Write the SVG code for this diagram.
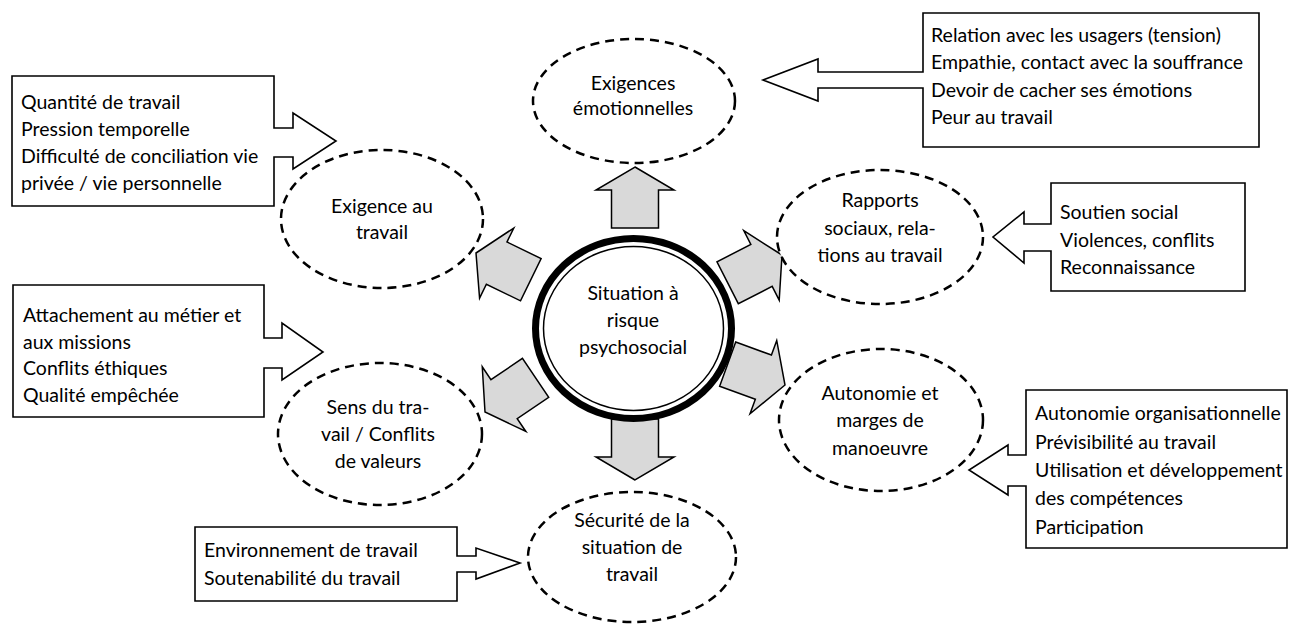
<svg xmlns="http://www.w3.org/2000/svg" width="1291" height="626" viewBox="0 0 1291 626">
<style>
text{font-family:Lato,"Liberation Sans",sans-serif;font-size:19.5px;fill:#000}
.c{text-anchor:middle}
.dash{fill:#fff;stroke:#000;stroke-width:2.5;stroke-dasharray:9 6}
.box{fill:#fff;stroke:#000;stroke-width:1.6;stroke-linejoin:miter}
.ga{fill:#d9d9d9;stroke:#000;stroke-width:1.5;stroke-linejoin:miter}
</style>
<defs>
<polygon id="blk" points="0,0 39,23 23.5,23 23.5,61 -23.5,61 -23.5,23 -39,23"/>
</defs>
<rect width="1291" height="626" fill="#fff"/>

<g id="connectors">
<use href="#blk" class="ga" transform="translate(635,167)"/>
<use href="#blk" class="ga" transform="translate(635,480) rotate(180)"/>
<use href="#blk" class="ga" transform="translate(476,253) rotate(-64)"/>
<use href="#blk" class="ga" transform="translate(782,255) rotate(63)"/>
<use href="#blk" class="ga" transform="translate(785,385) rotate(110)"/>
<use href="#blk" class="ga" transform="translate(485,412) rotate(-124)"/>
</g>

<g id="center">
<ellipse cx="633.5" cy="328.5" rx="98" ry="90" fill="#fff" stroke="#000" stroke-width="7"/>
<ellipse cx="633.5" cy="328.5" rx="90" ry="82" fill="none" stroke="#000" stroke-width="1.5"/>
<text class="c" x="633" y="300">Situation à</text>
<text class="c" x="633" y="327">risque</text>
<text class="c" x="633" y="354">psychosocial</text>
</g>

<g id="n-emo">
<ellipse class="dash" cx="634" cy="101" rx="101" ry="62"/>
<text class="c" x="633" y="90">Exigences</text>
<text class="c" x="633" y="115">émotionnelles</text>
</g>
<g id="n-exi">
<ellipse class="dash" cx="382" cy="219" rx="101" ry="69"/>
<text class="c" x="382" y="213">Exigence au</text>
<text class="c" x="382" y="239">travail</text>
</g>
<g id="n-rap">
<ellipse class="dash" cx="880" cy="237" rx="103" ry="67"/>
<text class="c" x="880" y="207">Rapports</text>
<text class="c" x="880" y="235">sociaux, rela-</text>
<text class="c" x="880" y="262">tions au travail</text>
</g>
<g id="n-sens">
<ellipse class="dash" cx="380" cy="434" rx="102" ry="71"/>
<text class="c" x="378" y="414">Sens du tra-</text>
<text class="c" x="378" y="441">vail / Conflits</text>
<text class="c" x="378" y="468">de valeurs</text>
</g>
<g id="n-auto">
<ellipse class="dash" cx="881" cy="420" rx="102" ry="71"/>
<text class="c" x="880" y="400">Autonomie et</text>
<text class="c" x="880" y="427">marges de</text>
<text class="c" x="880" y="455">manoeuvre</text>
</g>
<g id="n-secu">
<ellipse class="dash" cx="632" cy="557" rx="104" ry="65"/>
<text class="c" x="632" y="527">Sécurité de la</text>
<text class="c" x="632" y="554">situation de</text>
<text class="c" x="632" y="581">travail</text>
</g>

<g id="b-exi">
<polygon class="box" points="12,76 274,76 274,128 293,128 293,113 336,141 293,169 293,157 274,157 274,206 12,206"/>
<text x="21" y="109">Quantité de travail</text>
<text x="21" y="136">Pression temporelle</text>
<text x="21" y="163">Difficulté de conciliation vie</text>
<text x="21" y="190">privée / vie personnelle</text>
</g>
<g id="b-emo">
<polygon class="box" points="923,13 1259,13 1259,147 923,147 923,88 818,88 818,101 763,80 818,59 818,72 923,72"/>
<text x="931" y="42">Relation avec les usagers (tension)</text>
<text x="931" y="69">Empathie, contact avec la souffrance</text>
<text x="931" y="97">Devoir de cacher ses émotions</text>
<text x="931" y="124">Peur au travail</text>
</g>
<g id="b-rap">
<polygon class="box" points="1051,183 1245,183 1245,291 1051,291 1051,251 1024,251 1024,263 993,237 1024,212 1024,224 1051,224"/>
<text x="1060" y="219">Soutien social</text>
<text x="1060" y="247">Violences, conflits</text>
<text x="1060" y="274">Reconnaissance</text>
</g>
<g id="b-sens">
<polygon class="box" points="13,285 264,285 264,338 282,338 282,323 323,352 282,380 282,368 264,368 264,417 13,417"/>
<text x="23" y="322">Attachement au métier et</text>
<text x="23" y="349">aux missions</text>
<text x="23" y="375">Conflits éthiques</text>
<text x="23" y="402">Qualité empêchée</text>
</g>
<g id="b-auto">
<polygon class="box" points="1026,390 1287,390 1287,548 1026,548 1026,486 1008,486 1008,495 969,470 1008,445 1008,455 1026,455"/>
<text x="1035" y="420">Autonomie organisationnelle</text>
<text x="1035" y="449">Prévisibilité au travail</text>
<text x="1035" y="477">Utilisation et développement</text>
<text x="1035" y="505">des compétences</text>
<text x="1035" y="534">Participation</text>
</g>
<g id="b-secu">
<polygon class="box" points="195,527 457,527 457,556 476,556 476,548 520,563 476,579 476,572 457,572 457,601 195,601"/>
<text x="204" y="557">Environnement de travail</text>
<text x="204" y="585">Soutenabilité du travail</text>
</g>
</svg>
